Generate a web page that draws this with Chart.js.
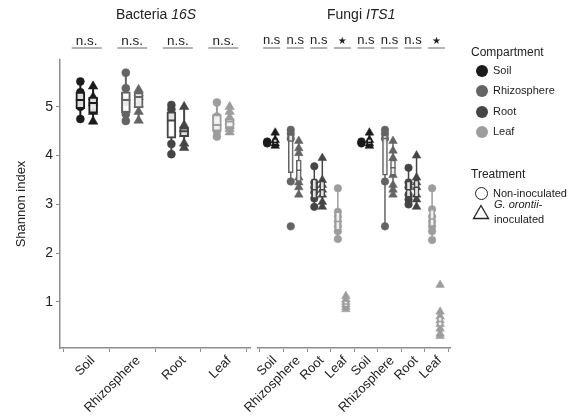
<!DOCTYPE html>
<html><head><meta charset="utf-8">
<script src="https://cdn.jsdelivr.net/npm/chart.js@4"></script>
<style>
html,body{margin:0;padding:0;background:#fff;}
#wrap{position:relative;width:568px;height:420px;overflow:hidden;font-family:"Liberation Sans",Arial,sans-serif;color:#222;}
.pane{position:absolute;top:0;height:420px;}
#p1{left:0;width:256px;}
#p2{left:190px;width:378px;}
.t{position:absolute;white-space:nowrap;line-height:1;}
.dot{position:absolute;width:12px;height:12px;border-radius:50%;}
</style></head>
<body>
<div id="wrap">
  <div class="pane" id="p1"><canvas id="c1"></canvas></div>
  <div class="pane" id="p2"><canvas id="c2"></canvas></div>
  <div class="t" style="left:116px;top:7px;font-size:14px;">Bacteria <i>16S</i></div>
  <div class="t" style="left:327px;top:7px;font-size:14px;">Fungi <i>ITS1</i></div>
  <div id="legend"></div>
</div>
<script>
// ---------------- DATA ----------------
const compartments = ['Soil', 'Rhizosphere', 'Root', 'Leaf'];
const bacteriaCategories = ['Soil', 'Rhizosphere', 'Root', 'Leaf'];
const fungiCategories = ['Soil', 'Rhizosphere', 'Root', 'Leaf', 'Soil', 'Rhizosphere', 'Root', 'Leaf'];
const bacteriaSignif = ['n.s.', 'n.s.', 'n.s.', 'n.s.'];
const fungiSignif = ['n.s', 'n.s', 'n.s', '\u2605', 'n.s', 'n.s', 'n.s', '\u2605'];
const yTickValues = [1, 2, 3, 4, 5];
const treatments = ['Non-inoculated', 'G. orontii-inoculated'];

// Shannon index of individual samples (circles = non-inoculated, triangles = inoculated)
const bacteriaNonInoc = [
  [5.52, 5.3, 5.15, 5.0, 4.75],
  [5.70, 5.38, 5.1, 4.85, 4.71],
  [5.04, 4.95, 4.8, 4.24, 4.03],
  [5.09, 4.8, 4.62, 4.5, 4.39]
];
const bacteriaInoc = [
  [5.42, 5.2, 5.08, 4.9, 4.70],
  [5.35, 5.28, 5.2, 5.05, 4.9, 4.72],
  [5.0, 4.62, 4.55, 4.45, 4.25, 4.16],
  [5.0, 4.9, 4.78, 4.7, 4.6, 4.55, 4.48]
];
const fungiNonInoc = [
  [4.29, 4.27, 4.25],
  [4.53, 4.45, 4.35, 3.47, 2.55],
  [3.78, 3.45, 3.35, 3.25, 3.12, 2.95],
  [3.33, 2.85, 2.75, 2.65, 2.55, 2.45, 2.29],
  [4.29, 4.27, 4.25],
  [4.53, 4.45, 4.35, 3.47, 2.55],
  [3.75, 3.45, 3.35, 3.2, 3.1, 3.0],
  [3.33, 2.9, 2.75, 2.65, 2.55, 2.45, 2.27]
];
const fungiInoc = [
  [4.47, 4.32, 4.25, 4.2],
  [4.3, 4.15, 4.05, 3.55, 3.45, 3.35, 3.2],
  [3.95, 3.5, 3.4, 3.3, 3.2, 3.05, 2.95],
  [1.12, 1.05, 1.0, 0.95, 0.9, 0.85],
  [4.47, 4.32, 4.25, 4.2],
  [4.3, 4.1, 3.95, 3.6, 3.4, 3.3, 3.2],
  [4.0, 3.55, 3.45, 3.35, 3.2, 3.1, 2.95],
  [1.35, 0.8, 0.7, 0.62, 0.55, 0.45, 0.35, 0.3]
];

// Box statistics: [lower whisker, Q1, median, Q3, upper whisker]
const bacteriaNonInocBox = [
  [4.75, 4.96, 5.14, 5.30, 5.52],
  [4.71, 4.88, 5.14, 5.31, 5.70],
  [4.03, 4.36, 4.72, 4.90, 5.04],
  [4.39, 4.50, 4.63, 4.84, 5.09]
];
const bacteriaInocBox = [
  [4.70, 4.87, 5.08, 5.20, 5.42],
  [4.72, 4.98, 5.20, 5.29, 5.35],
  [4.16, 4.39, 4.50, 4.57, 5.00],
  [4.48, 4.57, 4.70, 4.76, 5.00]
];
const fungiNonInocBox = [
  [4.25, 4.25, 4.27, 4.29, 4.29],
  [3.47, 3.65, 4.30, 4.43, 4.53],
  [2.95, 3.12, 3.30, 3.52, 3.78],
  [2.29, 2.47, 2.65, 2.85, 3.33],
  [4.25, 4.25, 4.27, 4.29, 4.29],
  [2.55, 3.60, 4.35, 4.42, 4.53],
  [3.00, 3.15, 3.30, 3.48, 3.75],
  [2.27, 2.55, 2.70, 2.90, 3.33]
];
const fungiInocBox = [
  [4.20, 4.22, 4.27, 4.35, 4.47],
  [3.20, 3.47, 3.70, 3.91, 4.30],
  [2.95, 3.15, 3.30, 3.48, 3.95],
  [0.85, 0.90, 0.96, 1.03, 1.12],
  [4.20, 4.22, 4.27, 4.35, 4.47],
  [3.20, 3.60, 3.75, 3.91, 4.30],
  [2.95, 3.15, 3.35, 3.50, 4.00],
  [0.30, 0.50, 0.60, 0.70, 0.80]
];

// ---------------- STYLE ----------------
const compartmentColors = { Soil: '#1b1b1b', Rhizosphere: '#646464', Root: '#454545', Leaf: '#9d9d9d' };
const axisColor = '#8e8e8e';
const FONT = '"Liberation Sans", Arial, sans-serif';

function buildDatasets(cats, nonInoc, inoc, nonBox, inocBox, st) {
  const ds = [];
  const groups = [
    { vals: nonInoc, box: nonBox, off: -st.off, style: 'circle', r: st.circR },
    { vals: inoc, box: inocBox, off: st.offTri, style: 'triangle', r: st.triR }
  ];
  groups.forEach(g => {
    cats.forEach((c, i) => {
      const col = compartmentColors[c];
      ds.push({
        type: 'scatter', order: 3,
        data: g.vals[i].map(v => ({ x: i + g.off, y: v })),
        pointStyle: g.style, pointRadius: g.r,
        backgroundColor: col, borderColor: col, borderWidth: 0.5
      });
    });
    ds.push({
      type: 'bar', order: 2, grouped: false,
      data: g.box.map((b, i) => ({ x: i + g.off, y: [b[1], b[3]] })),
      backgroundColor: 'rgba(255,255,255,0.85)',
      borderColor: cats.map(c => compartmentColors[c]),
      borderWidth: st.lw, borderSkipped: false,
      barThickness: st.barPx
    });
    cats.forEach((c, i) => {
      const b = g.box[i], x = i + g.off;
      ds.push({
        type: 'line', order: 1, spanGaps: false,
        data: [
          { x: x, y: b[0] }, { x: x, y: b[1] }, { x: x, y: null },
          { x: x, y: b[3] }, { x: x, y: b[4] }, { x: x, y: null },
          { x: x - st.hw, y: b[2] }, { x: x + st.hw, y: b[2] }
        ],
        borderColor: compartmentColors[c], borderWidth: st.lw,
        pointRadius: 0, tension: 0, fill: false
      });
    });
  });
  return ds;
}

const signifPlugin = {
  id: 'signif',
  afterDraw(chart, args, o) {
    const ctx = chart.ctx, xs = chart.scales.x;
    ctx.save();
    o.labels.forEach((lab, i) => {
      const px = xs.getPixelForValue(i);
      ctx.fillStyle = '#222';
      ctx.textAlign = 'center';
      ctx.textBaseline = 'middle';
      if (lab === '\u2605') {
        ctx.font = '10px "DejaVu Sans", sans-serif';
        ctx.fillText(lab, px, o.textY + 1);
      } else {
        ctx.font = o.font;
        ctx.fillText(lab, px, o.textY);
      }
      ctx.strokeStyle = '#9a9a9a';
      ctx.lineWidth = 1.5;
      ctx.beginPath();
      ctx.moveTo(px - o.half, o.lineY);
      ctx.lineTo(px + o.half, o.lineY);
      ctx.stroke();
    });
    ctx.restore();
  }
};

function xScale(cats, min, max, labelOffset) {
  return {
    type: 'linear', min: min, max: max, offset: false,
    afterBuildTicks: s => { s.ticks = cats.map((_, i) => ({ value: i })); },
    afterFit: s => { s.height = 72; },
    ticks: {
      callback: (v) => cats[v], autoSkip: false,
      minRotation: 45, maxRotation: 45, padding: 1, labelOffset: labelOffset,
      color: '#222', font: { family: FONT, size: 13 }
    },
    grid: { drawOnChartArea: false, drawTicks: true, tickLength: 4, color: axisColor, lineWidth: 1 },
    border: { display: true, color: axisColor, width: 1.5 }
  };
}
const yMin = 0.056, yMax = 5.96;

function yScale(show) {
  return {
    type: 'linear', min: yMin, max: yMax, display: show,
    afterBuildTicks: s => { s.ticks = yTickValues.map(v => ({ value: v })); },
    afterFit: s => { if (show) s.width = 60; },
    ticks: { color: '#222', font: { family: FONT, size: 14 }, padding: 3 },
    title: { display: true, text: 'Shannon index', color: '#222', font: { family: FONT, size: 13 }, padding: { top: 14, bottom: 0 } },
    grid: { drawOnChartArea: false, drawTicks: true, tickLength: 4, color: axisColor },
    border: { display: true, color: axisColor, width: 1.5 }
  };
}

const common = {
  responsive: true, maintainAspectRatio: false, animation: false, events: [],
  plugins: { legend: { display: false }, tooltip: { enabled: false } }
};

new Chart(document.getElementById('c1'), {
  data: {
    datasets: buildDatasets(bacteriaCategories, bacteriaNonInoc, bacteriaInoc, bacteriaNonInocBox, bacteriaInocBox,
      { off: 0.14, offTri: 0.14, hw: 0.098, barPx: 9, lw: 2, circR: 4, triR: 5.5 })
  },
  options: Object.assign({}, common, {
    layout: { padding: { top: 60, bottom: 0, left: 0, right: 4 } },
    scales: { x: xScale(bacteriaCategories, -0.587, 3.587, 6), y: yScale(true) },
    plugins: Object.assign({}, common.plugins, {
      signif: { labels: bacteriaSignif, textY: 41, lineY: 48, half: 15, font: '13.5px ' + FONT }
    })
  }),
  plugins: [signifPlugin]
});

new Chart(document.getElementById('c2'), {
  data: {
    datasets: buildDatasets(fungiCategories, fungiNonInoc, fungiInoc, fungiNonInocBox, fungiInocBox,
      { off: 0.19, offTri: 0.15, hw: 0.11, barPx: 5, lw: 1.5, circR: 3.8, triR: 5 })
  },
  options: Object.assign({}, common, {
    layout: { padding: { top: 60, bottom: 0, left: 68, right: 118 } },
    scales: { x: xScale(fungiCategories, -0.58, 7.57, 3), y: yScale(false) },
    plugins: Object.assign({}, common.plugins, {
      signif: { labels: fungiSignif, textY: 40, lineY: 48, half: 8.5, font: '13px ' + FONT }
    })
  }),
  plugins: [signifPlugin]
});

// ---------------- LEGEND (HTML) ----------------
(function () {
  const lg = document.getElementById('legend');
  let h = '<div class="t" style="left:471px;top:46px;font-size:12px;">Compartment</div>';
  const ys = [71, 91, 112, 132];
  compartments.forEach((c, i) => {
    h += '<div class="dot" style="left:476px;top:' + (ys[i] - 6) + 'px;background:' + compartmentColors[c] + ';"></div>';
    h += '<div class="t" style="left:493px;top:' + (ys[i] - 6) + 'px;font-size:11px;">' + c + '</div>';
  });
  h += '<div class="t" style="left:471px;top:168px;font-size:12px;">Treatment</div>';
  h += '<div class="dot" style="left:475px;top:187px;width:11px;height:11px;border:1.3px solid #222;box-sizing:content-box;"></div>';
  h += '<div class="t" style="left:493px;top:188px;font-size:11px;">' + treatments[0] + '</div>';
  h += '<svg class="t" style="left:472px;top:204px;" width="18" height="16"><polygon points="9,1.5 16.5,14.5 1.5,14.5" fill="none" stroke="#222" stroke-width="1.3"/></svg>';
  h += '<div class="t" style="left:494px;top:199px;font-size:11px;"><i>G. orontii</i>-</div>';
  h += '<div class="t" style="left:494px;top:214px;font-size:11px;">inoculated</div>';
  lg.innerHTML = h;
})();
</script>
</body></html>
